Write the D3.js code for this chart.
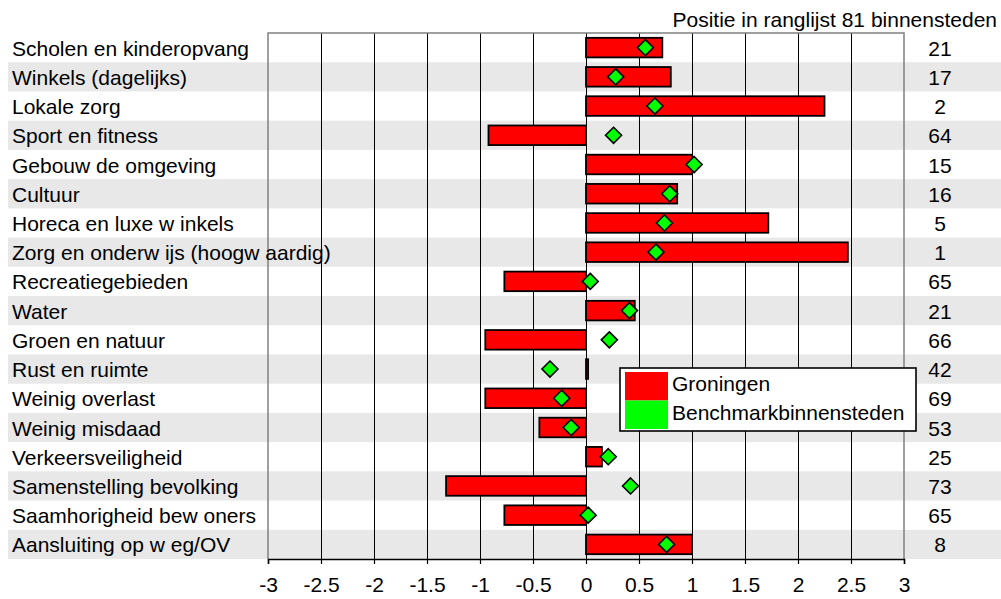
<!DOCTYPE html>
<html>
<head>
<meta charset="utf-8">
<script src="https://cdn.jsdelivr.net/npm/d3@7"></script>
<style>
  html, body { margin: 0; padding: 0; background: #fff; }
  svg { display: block; }
  text { font-family: "Liberation Sans", Arial, sans-serif; fill: #000; }
</style>
</head>
<body>
<svg id="chart" width="1001" height="599"></svg>
<script>
const categories = [
  "Scholen en kinderopvang",
  "Winkels (dagelijks)",
  "Lokale zorg",
  "Sport en fitness",
  "Gebouw de omgeving",
  "Cultuur",
  "Horeca en luxe w inkels",
  "Zorg en onderw ijs (hoogw aardig)",
  "Recreatiegebieden",
  "Water",
  "Groen en natuur",
  "Rust en ruimte",
  "Weinig overlast",
  "Weinig misdaad",
  "Verkeersveiligheid",
  "Samenstelling bevolking",
  "Saamhorigheid bew oners",
  "Aansluiting op w eg/OV"
];
const groningen = [0.72, 0.80, 2.25, -0.92, 1.0, 0.86, 1.72, 2.47, -0.77, 0.46, -0.95, 0.02, -0.95, -0.44, 0.15, -1.32, -0.77, 1.0];
const benchmark = [0.56, 0.28, 0.65, 0.26, 1.02, 0.79, 0.74, 0.66, 0.04, 0.41, 0.22, -0.34, -0.23, -0.14, 0.21, 0.42, 0.02, 0.76];
const ranks = [21, 17, 2, 64, 15, 16, 5, 1, 65, 21, 66, 42, 69, 53, 25, 73, 65, 8];
const xTicks = [-3, -2.5, -2, -1.5, -1, -0.5, 0, 0.5, 1, 1.5, 2, 2.5, 3];
const seriesNames = ["Groningen", "Benchmarkbinnensteden"];
const seriesColors = ["#ff0000", "#00ff00"];
const rankTitle = "Positie in ranglijst 81 binnensteden";

(function () {
const svg = d3.select("#chart");
const FS = 21;
const pL = 268, pR = 904, pT = 33, pB = 559;

const x = d3.scaleLinear().domain([-3, 3]).range([pL, pR]);
const y = d3.scaleBand().domain(categories).range([pT, pB]).padding(0);
const bw = y.bandwidth();
const barH = bw * 0.67;

// stripes
svg.append("g").selectAll("rect").data(categories).join("rect")
  .attr("x", 8).attr("width", 1001 - 8)
  .attr("y", d => y(d)).attr("height", bw)
  .attr("fill", (d, i) => i % 2 === 1 ? "#e8e8e8" : "none");

// gridlines
svg.append("g").selectAll("line").data(xTicks.filter(t => t > -3 && t < 3)).join("line")
  .attr("x1", d => x(d)).attr("x2", d => x(d))
  .attr("y1", pT).attr("y2", pB)
  .attr("stroke", "#000").attr("stroke-width", 1).attr("shape-rendering", "crispEdges");

// frame (gray)
svg.append("path")
  .attr("d", `M${pL},${pB}V${pT}H${pR}V${pB}`)
  .attr("fill", "none").attr("stroke", "#808080").attr("stroke-width", 1.5);

// x axis
const xAxis = d3.axisBottom(x).tickValues(xTicks).tickSize(5).tickPadding(13)
  .tickFormat(d => String(d));
const ax = svg.append("g").attr("transform", `translate(0,${pB})`).call(xAxis);
ax.select(".domain").attr("stroke", "#000").attr("stroke-width", 1.5);
ax.selectAll(".tick line").attr("stroke", "#000").attr("stroke-width", 1.2);
ax.selectAll(".tick text").style("font-family", '"Liberation Sans", Arial, sans-serif')
  .style("font-size", FS + "px").attr("fill", "#000");

// bars
svg.append("g").selectAll("rect").data(groningen).join("rect")
  .attr("x", d => x(Math.min(0, d)))
  .attr("width", d => Math.abs(x(d) - x(0)))
  .attr("y", (d, i) => y(categories[i]) + (bw - barH) / 2)
  .attr("height", barH)
  .attr("fill", seriesColors[0]).attr("stroke", "#000").attr("stroke-width", 1.8);

// diamonds
const dr = 8;
svg.append("g").selectAll("path").data(benchmark).join("path")
  .attr("transform", (d, i) => `translate(${x(d)},${y(categories[i]) + bw / 2})`)
  .attr("d", `M0,${-dr}L${dr},0L0,${dr}L${-dr},0Z`)
  .attr("fill", seriesColors[1]).attr("stroke", "#000").attr("stroke-width", 1.6);

// category labels
svg.append("g").selectAll("text").data(categories).join("text")
  .attr("x", 12).attr("y", d => y(d) + bw / 2 + 8)
  .style("font-size", FS + "px").text(d => d);

// ranks
svg.append("g").selectAll("text").data(ranks).join("text")
  .attr("x", 940).attr("y", (d, i) => y(categories[i]) + bw / 2 + 8)
  .attr("text-anchor", "middle")
  .style("font-size", FS + "px").text(d => d);

// rank title
svg.append("text").attr("x", 997).attr("y", 27).attr("text-anchor", "end")
  .style("font-size", FS + "px").text(rankTitle);

// legend
const lg = svg.append("g");
lg.append("rect").attr("x", 620).attr("y", 368).attr("width", 296).attr("height", 63)
  .attr("fill", "#fff").attr("stroke", "#000").attr("stroke-width", 1.6);
seriesNames.forEach((name, i) => {
  lg.append("rect").attr("x", 625).attr("y", 372 + i * 28.5).attr("width", 43).attr("height", 28.5)
    .attr("fill", seriesColors[i]);
  lg.append("text").attr("x", 672).attr("y", 391 + i * 29)
    .style("font-size", FS + "px").text(name);
});
})();
</script>
</body>
</html>
